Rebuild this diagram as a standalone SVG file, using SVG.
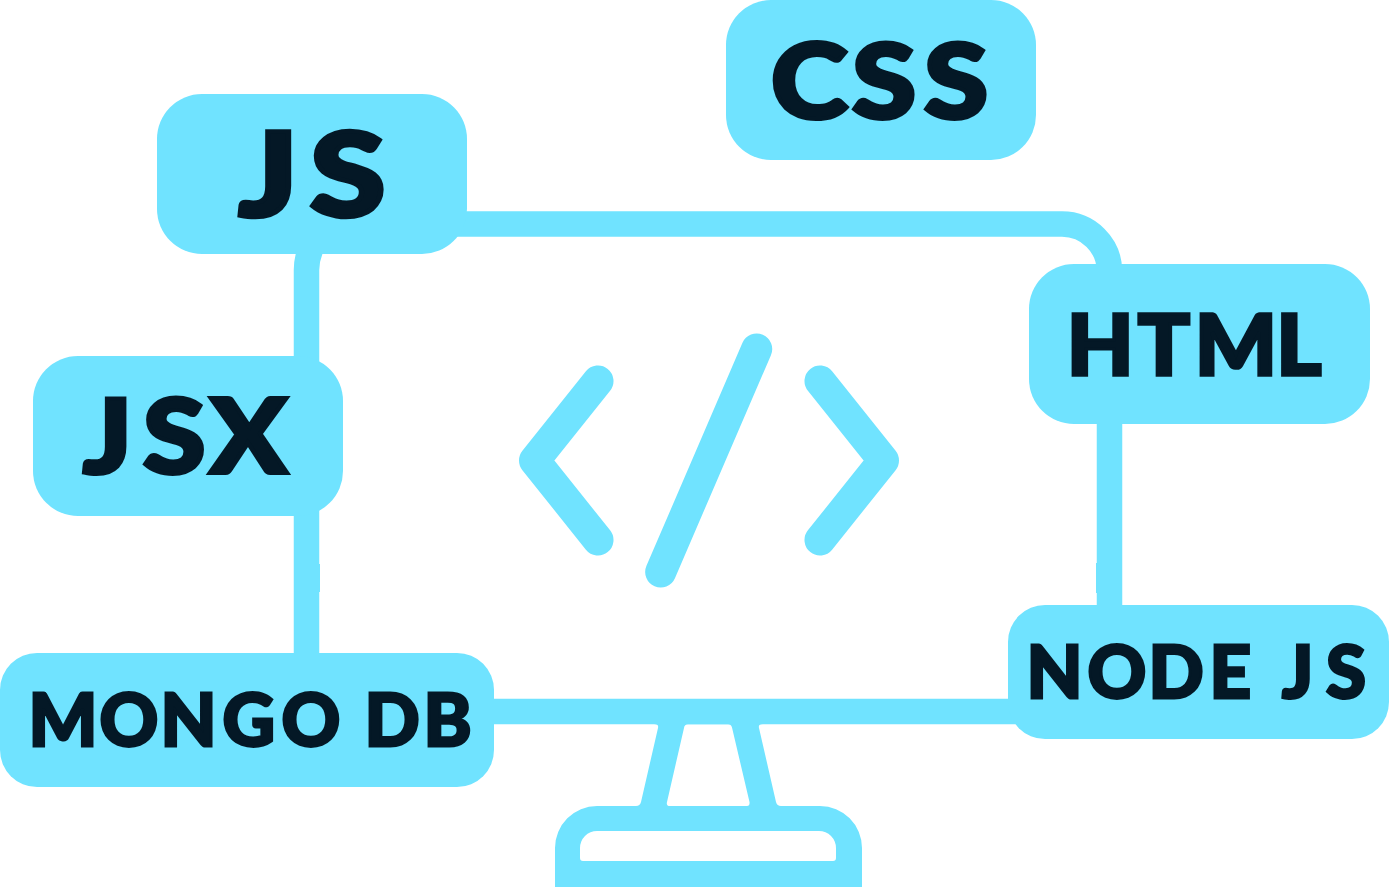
<svg xmlns="http://www.w3.org/2000/svg" width="1389" height="887" viewBox="0 0 1389 887">
<style>
.box{fill:#70e3ff}
.line{fill:none;stroke:#70e3ff;stroke-width:25.5}
.icon{fill:none;stroke:#70e3ff;stroke-width:31;stroke-linecap:round;stroke-linejoin:round}
.solid{fill:#70e3ff}
text{font-family:"Lato","Liberation Sans",sans-serif;font-weight:900;fill:#041826;stroke:#041826;stroke-width:.04em;stroke-linejoin:miter}
</style>
<rect width="1389" height="887" fill="#fff"/>
<g id="connectors">
<path class="line" d="M440,224H1062A47.500,47.500 0 0 1 1109.500,271.500V615"/>
<path class="line" d="M306.500,664V270Q306.500,255 315,240"/>
<path class="line" d="M480,711.500H1030"/>
<path class="solid" d="M319,564h1v28h-1ZM1097,563h-1v30h1Z"/>
<path class="solid" fill-rule="evenodd" d="M650,715H767V724H763Q758,724 759,728L776,802Q777,806 781,806V812H636V806Q640,806 641,802L658,728Q659,724 654,724H650ZM688,724.300H728Q731,724.300 732,727.500L749.500,802Q750,806 747,806H670Q666,806 667,802L684,728Q684.500,724.300 688,724.300Z"/>
<path class="solid" fill-rule="evenodd" d="M555,887V848A42,42 0 0 1 597,806H820A42,42 0 0 1 862,848V887ZM580,858Q580,861 583,861H833Q836,861 836,858V848A17,17 0 0 0 819,831H597A17,17 0 0 0 580,848Z"/>
</g>
<g id="code-icon">
<path class="icon" d="M598,381L534.500,460.500L598,540"/>
<path class="icon" d="M820,381L883.500,460.500L820,540"/>
<path class="icon" d="M756.700,349L660.700,572"/>
</g>
<g id="node-css"><rect class="box" x="726" y="0" width="310" height="160" rx="45"/><text transform="scale(1.13,1)" x="682.300 754 817.700" y="118" font-size="103">CSS</text></g>
<g id="node-js"><rect class="box" x="157" y="94" width="310" height="160" rx="45"/><text transform="scale(1.17,1)" x="204 265" y="216" font-size="117">JS</text></g>
<g id="node-html"><rect class="box" x="1029" y="264" width="341" height="160" rx="45"/><text transform="scale(1.03,1)" x="1035.600 1104.600 1159.900 1239" y="375" font-size="84">HTML</text></g>
<g id="node-jsx"><rect class="box" x="33" y="356" width="310" height="160" rx="45"/><text transform="scale(1.1,1)" x="75.500 130 190.900" y="473" font-size="103">JSX</text></g>
<g id="node-nodejs"><rect class="box" x="1008" y="605" width="381" height="134" rx="37"/><text x="1026.500 1087.500 1148.500 1209.500 1262 1282 1326" y="698" font-size="72.500">NODE JS</text></g>
<g id="node-mongodb"><rect class="box" x="0" y="653" width="494" height="134" rx="37"/><text x="28.500 99.500 160.500 222.500 281.500 345 364.500 423.500" y="746" font-size="72.500">MONGO DB</text></g>
</svg>
